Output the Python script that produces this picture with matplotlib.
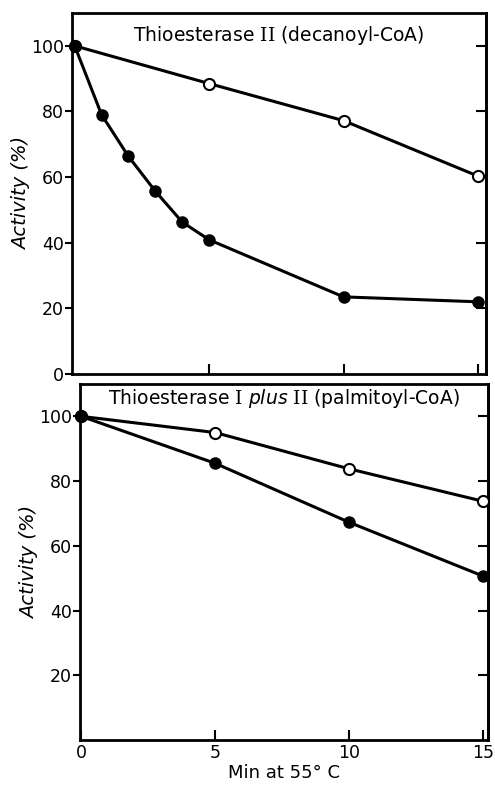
import matplotlib
matplotlib.use("Agg")
import matplotlib.pyplot as plt

# Top panel: Thioesterase II (decanoyl-CoA)
top_open_x = [0, 5, 10, 15]
top_open_y = [100, 88.5, 77.2, 60.3]
top_filled_x = [0, 1, 2, 3, 4, 5, 10, 15]
top_filled_y = [100, 79, 66.3, 55.7, 46.3, 40.9, 23.5, 22]

# Bottom panel: Thioesterase I plus II (palmitoyl-CoA)
bot_open_x = [0, 5, 10, 15]
bot_open_y = [100, 95, 83.8, 73.8]
bot_filled_x = [0, 5, 10, 15]
bot_filled_y = [100, 85.5, 67.3, 50.7]

top_yticks = [0, 20, 40, 60, 80, 100]
bot_yticks = [20, 40, 60, 80, 100]
xticks = [0, 5, 10, 15]

plt.rcParams['font.family'] = ['DejaVu Sans']
plt.rcParams['mathtext.fontset'] = 'custom'
plt.rcParams['mathtext.rm'] = 'DejaVu Serif'
plt.rcParams['mathtext.it'] = 'DejaVu Sans:italic'

fig = plt.figure(figsize=(4.95, 7.85), dpi=100)
W, H = 495, 785

def mkax(l, r, t, b):
    return fig.add_axes([l / W, 1 - b / H, (r - l) / W, (b - t) / H])

ax1 = mkax(72, 486, 13, 374)
ax2 = mkax(80, 488, 384, 740)

LW = 2.2
MS = 8

def draw(ax, ox, oy, fx, fy):
    ax.plot(ox, oy, color='black', lw=LW, marker='o', ms=MS,
            mfc='white', mec='black', mew=1.5, zorder=3, clip_on=False)
    ax.plot(fx, fy, color='black', lw=LW, marker='o', ms=MS,
            mfc='black', mec='black', zorder=4, clip_on=False)
    ax.set_ylim(0, 110)
    for s in ax.spines.values():
        s.set_linewidth(2)
    ax.tick_params(axis='y', which='both', left=True, right=False,
                   direction='out', length=5, width=1.5, labelsize=12.5, pad=1)
    ax.tick_params(axis='x', which='both', direction='in', length=7,
                   width=1.5, labelsize=12.5, pad=3)
    ax.set_ylabel('Activity (%)', fontsize=14, style='italic', labelpad=0)
    axr = ax.secondary_yaxis('right')
    axr.set_yticks([20, 40, 60, 80, 100])
    axr.tick_params(direction='in', length=7, width=1.5, labelright=False)
    axr.spines['right'].set_linewidth(2)

draw(ax1, top_open_x, top_open_y, top_filled_x, top_filled_y)
ax1.set_xlim(-0.1, 15.3)
ax1.set_yticks(top_yticks)
ax1.set_xticks([5, 10, 15])
ax1.tick_params(axis='x', labelbottom=False)
ax1.text(0.5, 0.937, 'Thioesterase $\\mathrm{II}$ (decanoyl-CoA)',
         transform=ax1.transAxes, ha='center', va='center', fontsize=13.5)

draw(ax2, bot_open_x, bot_open_y, bot_filled_x, bot_filled_y)
ax2.set_xlim(-0.05, 15.2)
ax2.set_yticks(bot_yticks)
ax2.set_xticks(xticks)
ax2.set_xlabel('Min at 55° C', fontsize=13, labelpad=1.5)
ax2.text(0.5, 0.958, 'Thioesterase $\\mathrm{I}$ $\\mathit{plus}$ $\\mathrm{II}$ (palmitoyl-CoA)',
         transform=ax2.transAxes, ha='center', va='center', fontsize=13.5)

fig.savefig('out.png', dpi=100)
